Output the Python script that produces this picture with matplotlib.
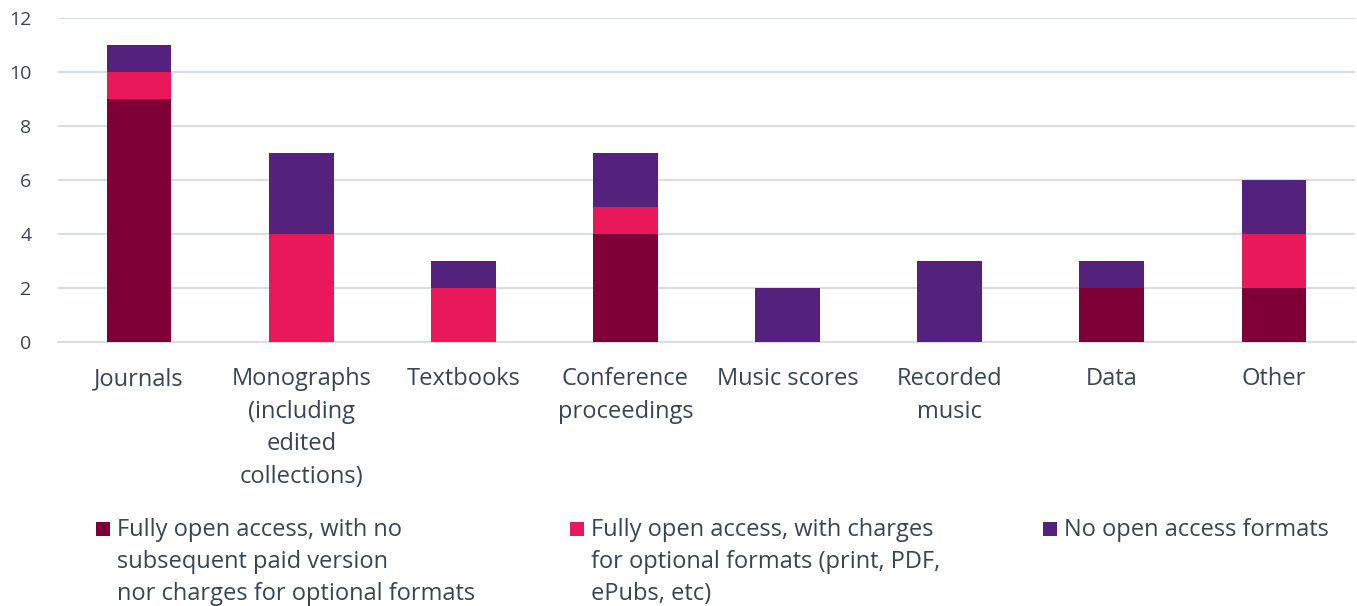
import matplotlib
matplotlib.use("Agg")
import matplotlib.pyplot as plt
from matplotlib.patches import Rectangle
import numpy as np

categories = ["Journals", "Monographs\n(including\nedited\ncollections)", "Textbooks",
              "Conference\nproceedings", "Music scores", "Recorded\nmusic", "Data", "Other"]
fully_oa_no_paid = [9, 0, 0, 4, 0, 0, 2, 2]
fully_oa_charges = [1, 4, 2, 1, 0, 0, 0, 2]
no_oa = [1, 3, 1, 2, 2, 3, 1, 2]
series_labels = [
    "Fully open access, with no\nsubsequent paid version\nnor charges for optional formats",
    "Fully open access, with charges\nfor optional formats (print, PDF,\nePubs, etc)",
    "No open access formats",
]
colors = ["#7f0037", "#e8185a", "#54217c"]
yticks = [0, 2, 4, 6, 8, 10, 12]

plt.rcParams['font.family'] = ['Open Sans', 'DejaVu Sans']
text_color = "#3a4550"
W, H = 1357, 606

fig = plt.figure(figsize=(W / 100, H / 100), dpi=100)
ax = fig.add_axes([58 / W, 1 - 342 / H, (1355 - 58) / W, (342 - 18) / H])

x = np.arange(len(categories))
w = 0.40
b1 = ax.bar(x, fully_oa_no_paid, w, color=colors[0], zorder=3)
bottom2 = np.array(fully_oa_no_paid)
b2 = ax.bar(x, fully_oa_charges, w, bottom=bottom2, color=colors[1], zorder=3)
bottom3 = bottom2 + np.array(fully_oa_charges)
b3 = ax.bar(x, no_oa, w, bottom=bottom3, color=colors[2], zorder=3)

ax.set_xlim(-0.5, len(categories) - 0.5)
ax.set_ylim(0, 12)
ax.set_yticks(yticks)
ax.set_yticklabels([str(v) for v in yticks], fontsize=14, color=text_color)
ax.set_xticks(x)
ax.set_xticklabels(categories, fontsize=17, color=text_color, linespacing=1.48)
ax.tick_params(axis='both', length=0)
ax.tick_params(axis='x', pad=18)
ax.tick_params(axis='y', pad=19)
ax.grid(axis='y', color="#d9dee4", linewidth=1.5, zorder=0)
for s in ax.spines.values():
    s.set_visible(False)
ax.spines['bottom'].set_visible(True)
ax.spines['bottom'].set_color("#d9dee4")
ax.spines['bottom'].set_linewidth(1.5)

# legend (manual so the marker sits beside the first line)
xpos = [96, 570, 1043]
for col, lab, xp in zip(colors, series_labels, xpos):
    fig.patches.append(Rectangle((xp / W, 1 - 536 / H), 14 / W, 14 / H,
                                 transform=fig.transFigure, facecolor=col,
                                 edgecolor='none'))
    for i, line in enumerate(lab.split("\n")):
        fig.text((xp + 21) / W, 1 - (530 + 32 * i) / H, line, fontsize=17,
                 color=text_color, va='center', ha='left')

fig.savefig("out.png", dpi=100)
